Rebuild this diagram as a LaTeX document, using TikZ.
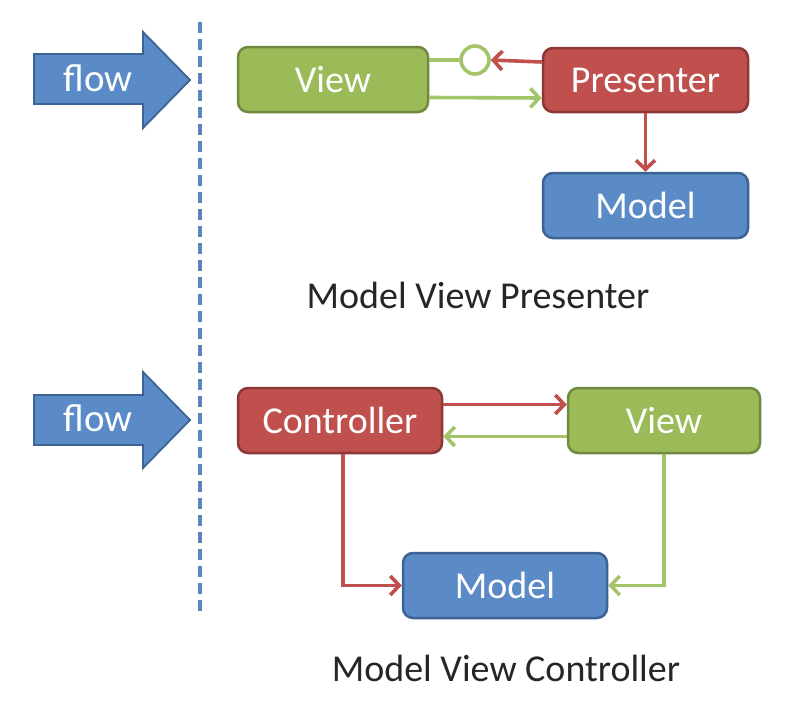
\documentclass[tikz,border=0pt]{standalone}
\usepackage{fontspec}
\setmainfont{Carlito}
\usetikzlibrary{arrows.meta,calc}
\definecolor{grfill}{HTML}{9BBB59}
\definecolor{grline}{HTML}{71893F}
\definecolor{rdfill}{HTML}{C0504D}
\definecolor{rdline}{HTML}{8C3836}
\definecolor{blfill}{HTML}{5B8BC6}
\definecolor{blline}{HTML}{3D6394}
\definecolor{grarrow}{HTML}{A4C46A}
\definecolor{rdarrow}{HTML}{C0504D}
\definecolor{dashcol}{HTML}{5A87BF}
\definecolor{labcol}{HTML}{262626}
\begin{document}
\begin{tikzpicture}[x=1pt,y=-1pt,
  box/.style={rectangle,rounded corners=10pt,line width=2.5pt,text=white,
    font=\fontsize{38}{44}\selectfont,inner sep=0pt},
  greenbox/.style={box,fill=grfill,draw=grline},
  redbox/.style={box,fill=rdfill,draw=rdline},
  bluebox/.style={box,fill=blfill,draw=blline},
  conn/.style={line width=3.6pt,-{Straight Barb[length=9pt,width=19pt,line width=3.6pt]}},
  redconn/.style={conn,draw=rdarrow},
  greenconn/.style={conn,draw=grarrow},
  flowshape/.style={fill=blfill,draw=blline,line width=1.8pt,line join=miter},
  flowtext/.style={text=white,font=\fontsize{39}{45}\selectfont,inner sep=0pt},
  caption/.style={text=labcol,font=\fontsize{38}{44}\selectfont,inner sep=0pt}
]
\useasboundingbox[fill=white] (0,0) rectangle (800,720);

% dashed separator
\coordinate (dtop) at (200,22);
\coordinate (dbot) at (200,616);
\draw[dashcol,line width=4pt,dash pattern=on 11pt off 6pt] (dtop) -- (dbot);

% flow arrows
\draw[flowshape] (34,54) -- (143,54) -- (143,32) -- (190,80) -- (143,128) -- (143,104) -- (34,104) -- cycle;
\node[flowtext] (flowA) at (98,78) {flow};
\draw[flowshape] (34,395) -- (143,395) -- (143,372) -- (190,420) -- (143,468) -- (143,445) -- (34,445) -- cycle;
\node[flowtext] (flowB) at (98,418) {flow};

% MVP
\node[greenbox,minimum width=190pt,minimum height=65pt] (mvpV) at (333,79.5) {View};
\node[redbox,minimum width=205pt,minimum height=64pt] (mvpP) at (645.5,80) {Presenter};
\node[bluebox,minimum width=205pt,minimum height=65pt] (mvpM) at (645.5,205.5) {Model};
\node[circle,draw=grarrow,line width=3.6pt,fill=white,minimum size=28pt,inner sep=0pt] (iface) at (475,60) {};

\draw[grarrow,line width=3.6pt] ([yshift=19.5pt]mvpV.east) -- (iface.west);
\draw[redconn] ([yshift=18pt]mvpP.west) -- (iface.east);
\draw[greenconn] ([yshift=-18pt]mvpV.east) -- ([yshift=-18pt]mvpP.west);
\draw[redconn] (mvpP.south) -- (mvpM.north);

\node[caption] (capMVP) at (478,295) {Model View Presenter};

% MVC
\node[redbox,minimum width=204pt,minimum height=65pt] (mvcC) at (340,420.5) {Controller};
\node[greenbox,minimum width=192pt,minimum height=65pt] (mvcV) at (664,420.5) {View};
\node[bluebox,minimum width=204pt,minimum height=65pt] (mvcM) at (505,585.5) {Model};

\draw[redconn] ([yshift=16pt]mvcC.east) -- ([yshift=16pt]mvcV.west);
\draw[greenconn] ([yshift=-16pt]mvcV.west) -- ([yshift=-16pt]mvcC.east);
\draw[redconn] ([xshift=3pt]mvcC.south) |- (mvcM.west);
\draw[greenconn] (mvcV.south) |- (mvcM.east);

\node[caption] (capMVC) at (506,668) {Model View Controller};
\end{tikzpicture}
\end{document}
